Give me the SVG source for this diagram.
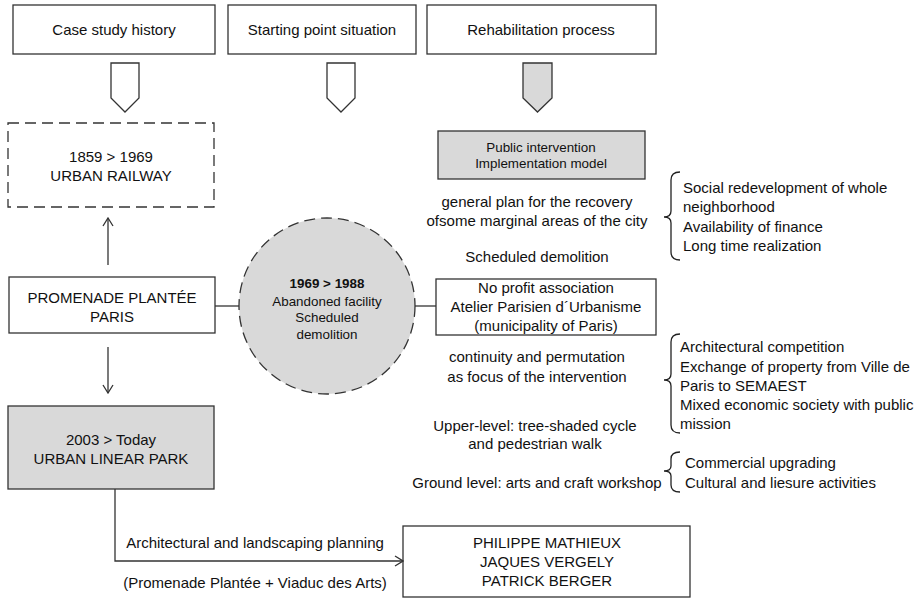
<svg xmlns="http://www.w3.org/2000/svg" width="922" height="598" viewBox="0 0 922 598">
<defs>
<style>
text{font-family:"Liberation Sans",Arial,sans-serif;font-size:15px;fill:#111;}
.c{text-anchor:middle;}
.s{font-size:13.4px;}
.b{font-weight:bold;}
.box{fill:#fff;stroke:#333;stroke-width:1.3;}
.gray{fill:#d9d9d9;stroke:#333;stroke-width:1.3;}
.dash{fill:#fff;stroke:#333;stroke-width:1.3;stroke-dasharray:11 6;}
.circ{fill:#d9d9d9;stroke:#333;stroke-width:1.3;stroke-dasharray:11 6;}
.ln{fill:none;stroke:#333;stroke-width:1.3;}
.br{fill:none;stroke:#222;stroke-width:1.3;}
</style>
<marker id="ah" markerUnits="userSpaceOnUse" markerWidth="10" markerHeight="12" refX="9" refY="6" orient="auto">
<path d="M1,1 L9,6 L1,11" fill="none" stroke="#333" stroke-width="1.3"/>
</marker>
</defs>

<g id="h1"><rect class="box" x="13" y="5" width="202" height="49"/><text class="c" x="114" y="35">Case study history</text></g>
<g id="h2"><rect class="box" x="228" y="5" width="188" height="49"/><text class="c" x="322" y="35">Starting point situation</text></g>
<g id="h3"><rect class="box" x="427" y="5" width="229" height="49"/><text class="c" x="541" y="35">Rehabilitation process</text></g>

<g id="ba1"><path class="box" d="M111,63 H139 V98 L125,112 L111,98 Z"/></g>
<g id="ba2"><path class="box" d="M327,63 H355 V98 L341,112 L327,98 Z"/></g>
<g id="ba3"><path class="gray" d="M523,63 H552 V98 L537.5,112 L523,98 Z"/></g>

<g id="railway"><rect class="dash" x="8" y="123" width="206" height="84"/>
<text class="c" x="111" y="162">1859 &gt; 1969</text><text class="c" x="111" y="181">URBAN RAILWAY</text></g>

<g id="promenade"><rect class="box" x="9" y="277" width="206" height="56"/>
<text class="c" x="112" y="303">PROMENADE PLANTÉE</text><text class="c" x="112" y="322">PARIS</text></g>

<g id="park"><rect class="gray" x="8" y="406" width="206" height="83"/>
<text class="c" x="111" y="445">2003 &gt; Today</text><text class="c" x="111" y="464">URBAN LINEAR PARK</text></g>

<g id="circle"><circle class="circ" cx="327" cy="306" r="88"/>
<text class="c s b" x="327" y="288">1969 &gt; 1988</text>
<text class="c s" x="327" y="306">Abandoned facility</text>
<text class="c s" x="327" y="322">Scheduled</text>
<text class="c s" x="327" y="339">demolition</text></g>

<g id="public"><rect class="gray" x="438" y="131" width="207" height="48"/>
<text class="c s" x="541" y="152">Public intervention</text>
<text class="c s" x="541" y="168">Implementation model</text></g>

<g id="plan"><text class="c" x="537" y="207">general plan for the recovery</text>
<text class="c" x="537" y="226">ofsome marginal areas of the city</text>
<text class="c" x="537" y="262">Scheduled demolition</text></g>

<g id="brace1"><path class="br" d="M680,172 Q671,172 671,180 V211 Q671,217 664,217 Q671,217 671,223 V252 Q671,260 680,260"/>
<text x="683" y="193">Social redevelopment of whole</text>
<text x="683" y="212">neighborhood</text>
<text x="683" y="232">Availability of finance</text>
<text x="683" y="251">Long time realization</text></g>

<g id="assoc"><rect class="box" x="436" y="279" width="220" height="56"/>
<text class="c" x="546" y="293">No profit association</text>
<text class="c" x="546" y="312">Atelier Parisien d´Urbanisme</text>
<text class="c" x="546" y="331">(municipality of Paris)</text></g>

<g id="focus"><text class="c" x="537" y="362">continuity and permutation</text>
<text class="c" x="537" y="382">as focus of the intervention</text>
<text class="c" x="535" y="431">Upper-level: tree-shaded cycle</text>
<text class="c" x="535" y="449">and pedestrian walk</text>
<text class="c" x="537" y="488">Ground level: arts and craft workshop</text></g>

<g id="brace2"><path class="br" d="M680,334 Q671,334 671,342 V374 Q671,380 664,380 Q671,380 671,386 V425 Q671,433 680,433"/>
<text x="680" y="352">Architectural competition</text>
<text x="680" y="372">Exchange of property from Ville de</text>
<text x="680" y="391">Paris to SEMAEST</text>
<text x="680" y="410">Mixed economic society with public</text>
<text x="680" y="429">mission</text></g>

<g id="brace3"><path class="br" d="M680,452 Q671,452 671,459 V466 Q671,471 664,471 Q671,471 671,476 V485 Q671,492 680,492"/>
<text x="685" y="468">Commercial upgrading</text>
<text x="685" y="488">Cultural and liesure activities</text></g>

<g id="architects"><rect class="box" x="403" y="526" width="287" height="71"/>
<text class="c" x="547" y="548">PHILIPPE MATHIEUX</text>
<text class="c" x="547" y="567">JAQUES VERGELY</text>
<text class="c" x="547" y="586">PATRICK BERGER</text></g>

<g id="connectors">
<line class="ln" x1="108" y1="265" x2="108" y2="218" marker-end="url(#ah)"/>
<line class="ln" x1="108" y1="347" x2="108" y2="393" marker-end="url(#ah)"/>
<line class="ln" x1="215" y1="306" x2="239" y2="306"/>
<line class="ln" x1="415" y1="306" x2="436" y2="306"/>
<path class="ln" d="M115,489 V561 H403" marker-end="url(#ah)"/>
<text class="c" x="255" y="548">Architectural and landscaping planning</text>
<text class="c" x="255" y="588">(Promenade Plantée + Viaduc des Arts)</text>
</g>
</svg>
